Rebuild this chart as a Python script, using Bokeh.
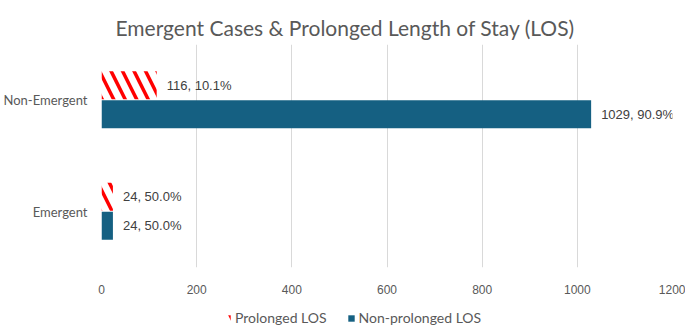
from bokeh.plotting import figure
from bokeh.layouts import column
from bokeh.models import ColumnDataSource, Range1d, FactorRange, Legend, LegendItem, SingleIntervalTicker
from bokeh.transform import dodge
from bokeh.core.properties import value
from bokeh.embed import file_html
from bokeh.resources import INLINE

# Data
groups = ["Emergent", "Non-Emergent"]
prolonged = [24, 116]
non_prolonged = [24, 1029]
prolonged_labels = ["24, 50.0%", "116, 10.1%"]
non_prolonged_labels = ["24, 50.0%", "1029, 90.9%"]
series_names = ["Prolonged LOS", "Non-prolonged LOS"]

TEAL = "#156082"
GREY = "#595959"
HATCH = dict(fill_color="white", line_color=None, hatch_pattern="\\",
             hatch_color="red", hatch_weight=3.5, hatch_scale=23)
SOLID = dict(fill_color=TEAL, line_color=None)

src = ColumnDataSource(dict(
    group=groups,
    prolonged=prolonged,
    non_prolonged=non_prolonged,
    prolonged_labels=prolonged_labels,
    non_prolonged_labels=non_prolonged_labels,
))

p = figure(
    width=685, height=305,
    y_range=FactorRange(factors=groups, range_padding=0),
    x_range=Range1d(0, 1200),
    output_backend="svg", toolbar_location=None,
    min_border_left=101, min_border_right=13,
    min_border_top=44, min_border_bottom=38,
    title="Emergent Cases & Prolonged Length of Stay (LOS)",
)

# Bars
p.hbar(y=dodge("group", 0.135, range=p.y_range), right="prolonged", left=0,
       height=0.25, source=src, **HATCH)
p.hbar(y=dodge("group", -0.125, range=p.y_range), right="non_prolonged", left=0,
       height=0.25, source=src, **SOLID)

# Value labels
label_style = dict(text_font=value("Liberation Sans"), text_font_size="13px",
                   text_color="#404040", text_baseline="middle", x_offset=10)
p.text(x="prolonged", y=dodge("group", 0.135, range=p.y_range), text="prolonged_labels",
       source=src, **label_style)
p.text(x="non_prolonged", y=dodge("group", -0.125, range=p.y_range), text="non_prolonged_labels",
       source=src, **label_style)

# Title
p.title.align = "left"
p.title.offset = 14
p.title.text_font = "Lato"
p.title.text_font_style = "normal"
p.title.text_font_size = "21px"
p.title.text_color = GREY

# Axes & grid
p.xaxis.ticker = SingleIntervalTicker(interval=200)
for ax in (p.xaxis, p.yaxis):
    ax.axis_line_color = None
    ax.major_tick_line_color = None
    ax.minor_tick_line_color = None
    ax.major_tick_out = 0
    ax.major_tick_in = 0
    ax.major_label_text_color = GREY
p.xaxis.major_label_text_font = "Liberation Sans"
p.xaxis.major_label_text_font_size = "12px"
p.xaxis.major_label_standoff = 13
p.yaxis.major_label_text_font = "Lato"
p.yaxis.major_label_text_font_size = "13px"
p.yaxis.major_label_standoff = 14
p.ygrid.grid_line_color = None
p.xgrid.grid_line_color = "#d9d9d9"
p.outline_line_color = None

# Legend strip under the chart (its frame lines up with the chart's frame)
lg = figure(width=685, height=22, x_range=Range1d(0, 1), y_range=Range1d(0, 1),
            x_axis_type=None, y_axis_type=None, output_backend="svg",
            toolbar_location=None, min_border=0)
lg.outline_line_color = None
lg.grid.visible = False
key_src = ColumnDataSource(dict(y=[-10], right=[0]))
k_prol = lg.hbar(y="y", right="right", left=0, height=0.5, source=key_src, **HATCH)
k_non = lg.hbar(y="y", right="right", left=0, height=0.5, source=key_src, **SOLID)
legend = Legend(
    items=[LegendItem(label=series_names[0], renderers=[k_prol]),
           LegendItem(label=series_names[1], renderers=[k_non])],
    orientation="horizontal", location=(122, 1),
    padding=0, margin=0, spacing=20, label_standoff=4,
    glyph_width=8, glyph_height=8, label_height=14,
    label_text_font="Lato", label_text_font_size="14px", label_text_color=GREY,
    background_fill_alpha=0, border_line_color=None,
)
lg.add_layout(legend, "center")

layout = column(p, lg, spacing=0)
open("out.html", "w").write(file_html(layout, INLINE))
